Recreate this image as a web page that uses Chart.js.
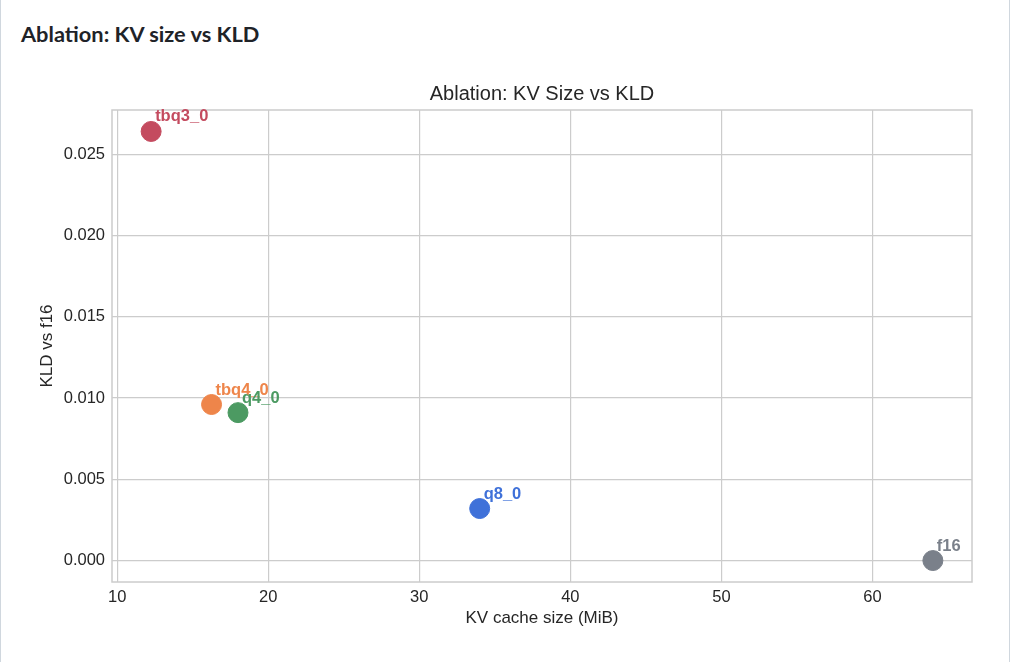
<!DOCTYPE html>
<html>
<head>
<meta charset="utf-8">
<script src="https://cdn.jsdelivr.net/npm/chart.js@4"></script>
<style>
  body { margin: 0; background: #fff; font-family: "Liberation Sans", Arial, sans-serif; }
  .card {
    position: absolute; left: 0; top: 0; width: 1008px; height: 700px;
    border-left: 1px solid #d0d7de; border-right: 1px solid #d0d7de;
  }
  h2 {
    position: absolute; left: 20px; top: 20px; margin: 0;
    font-family: "Lato", "Noto Sans", sans-serif; font-weight: 700; font-size: 21.8px; color: #1f2328;
  }
  #wrap { position: absolute; left: 20px; top: 70px; width: 970px; height: 570px; }
</style>
</head>
<body>
<div class="card">
  <h2>Ablation: KV size vs KLD</h2>
  <div id="wrap"><canvas id="kvChart"></canvas></div>
</div>
<script>
// data
var configNames = ["tbq3_0", "tbq4_0", "q4_0", "q8_0", "f16"];
var kvSizeMiB = [12.25, 16.25, 18, 34, 64];
var kldVsF16 = [0.0264, 0.0096, 0.0091, 0.0032, 0.0];
var pointColours = ["#c44b5f", "#ee854a", "#4c9a62", "#3f71d9", "#7a808a"];
var xTicks = [10, 20, 30, 40, 50, 60];
var yTicks = [0.000, 0.005, 0.010, 0.015, 0.020, 0.025];

var datasets = [];
for (let i = 0; i < configNames.length; i++) {
    datasets.push({
        label: configNames[i],
        data: [{ x: kvSizeMiB[i], y: kldVsF16[i] }],
        backgroundColor: pointColours[i],
        borderColor: pointColours[i],
        pointRadius: 10,
        pointHoverRadius: 10
    });
}

// box around the plot area + the point labels
var boxAndLabels = {
    id: "boxAndLabels",
    afterDatasetsDraw(chart) {
        let ctx = chart.ctx;
        let a = chart.chartArea;
        ctx.save();
        ctx.strokeStyle = "#cccccc";
        ctx.lineWidth = 1.5;
        ctx.strokeRect(a.left, a.top, a.right - a.left, a.bottom - a.top);
        ctx.font = "bold 16.5px 'Liberation Sans', Arial, sans-serif";
        ctx.textAlign = "left";
        ctx.textBaseline = "alphabetic";
        chart.data.datasets.forEach(function(ds, i) {
            let pt = chart.getDatasetMeta(i).data[0];
            ctx.fillStyle = ds.backgroundColor;
            ctx.fillText(ds.label, pt.x + 4, pt.y - 10);
        });
        ctx.restore();
    }
};

var tickFont = { family: "'Liberation Sans', Arial, sans-serif", size: 16.5 };
var titleFont = { family: "'Liberation Sans', Arial, sans-serif", size: 17 };

new Chart(document.getElementById("kvChart"), {
    type: "scatter",
    data: { datasets: datasets },
    options: {
        responsive: true,
        maintainAspectRatio: false,
        animation: false,
        layout: { padding: { top: 0, right: 19, bottom: 0, left: 0 } },
        plugins: {
            legend: { display: false },
            tooltip: { enabled: false },
            title: {
                display: true,
                fullSize: false,
                text: "Ablation: KV Size vs KLD",
                color: "#262626",
                font: { family: "'Liberation Sans', Arial, sans-serif", size: 20, weight: "normal" },
                padding: { top: 12, bottom: 4 }
            }
        },
        scales: {
            x: {
                type: "linear",
                min: 9.66,
                max: 66.59,
                afterBuildTicks: function(scale) { scale.ticks = xTicks.map(v => ({ value: v })); },
                afterFit: function(scale) { scale.height = 58; },
                grid: { color: "#cccccc", lineWidth: 1.2, drawTicks: false },
                border: { display: false },
                ticks: { color: "#262626", font: tickFont, padding: 6 },
                title: {
                    display: true, text: "KV cache size (MiB)", color: "#262626",
                    font: titleFont,
                    padding: { top: 4, bottom: 11 }
                }
            },
            y: {
                type: "linear",
                min: -0.00132,
                max: 0.02772,
                afterBuildTicks: function(scale) { scale.ticks = yTicks.map(v => ({ value: v })); },
                afterFit: function(scale) { scale.width = 91; },
                grid: { color: "#cccccc", lineWidth: 1.2, drawTicks: false },
                border: { display: false },
                ticks: {
                    color: "#262626", font: tickFont, padding: 7,
                    callback: function(v) { return v.toFixed(3); }
                },
                title: {
                    display: true, text: "KLD vs f16", color: "#262626",
                    font: titleFont,
                    padding: { top: 16, bottom: 4 }
                }
            }
        }
    },
    plugins: [boxAndLabels]
});
</script>
</body>
</html>
